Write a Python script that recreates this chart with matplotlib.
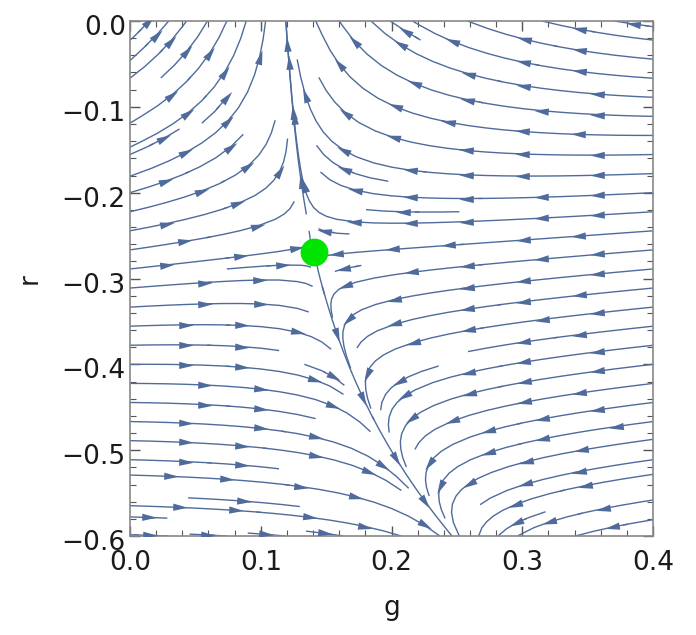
import numpy as np
import matplotlib
matplotlib.use("Agg")
import matplotlib.pyplot as plt
from matplotlib.ticker import MultipleLocator
from matplotlib.markers import MarkerStyle
from matplotlib.path import Path
from matplotlib.transforms import Affine2D, ScaledTranslation

plt.rcParams['font.family'] = ['DejaVu Sans']

# separatrix (unstable manifold) points: (r, g)
sep_r = np.array([0.0, -0.092, -0.205, -0.269, -0.287, -0.364, -0.427, -0.508, -0.60])
sep_g = np.array([0.120, 0.122, 0.132, 0.141, 0.145, 0.158, 0.174, 0.201, 0.247])
# fixed point (green dot)
fixed_g = [0.141]
fixed_r = [-0.269]
# flow rates
rate_r = 1.0       # repulsion along r
rate_g_top = 2.2   # attraction toward separatrix at r = 0
rate_g_quad = 25.0
coupling_left = 0.85
coupling_right = 0.5

coef = np.polyfit(sep_r, sep_g, 3)
dcoef = np.polyder(coef)

g = np.linspace(0.0, 0.4, 240)
r = np.linspace(-0.6, 0.0, 240)
G, R = np.meshgrid(g, r)
gc = np.polyval(coef, R)
dgc = np.polyval(dcoef, R)
x = G - gc
a = rate_g_top + rate_g_quad * R**2
vr_curve = rate_r * (R - fixed_r[0])
c = np.where(x < 0, coupling_left, coupling_right)
V = vr_curve - c * x
U = -a * x + dgc * vr_curve

LINE_COLOR = '#4f6b9c'
fig = plt.figure(figsize=(6.96, 6.35), dpi=100)
ax = fig.add_axes([130/696, 1-536/635, 523/696, 515/635])
ax.set_xlim(0, 0.4)
ax.set_ylim(-0.6, 0)
sp = ax.streamplot(G, R, U, V, density=0.95, color=LINE_COLOR, linewidth=1.0,
                   arrowstyle='-', arrowsize=0.1, minlength=0.05)
# the two branches of the unstable manifold leaving the fixed point
sep_start = np.array([[np.polyval(coef, -0.29), -0.29],
                      [np.polyval(coef, -0.245), -0.245]])
sp2 = ax.streamplot(G, R, U, V, start_points=sep_start, integration_direction='forward',
                    color=LINE_COLOR, linewidth=1.0, arrowstyle='-', arrowsize=0.1)


def get_streams(lc):
    segs = [np.asarray(s) for s in lc.get_segments()]
    if not segs:
        return []
    if all(len(s) == 2 for s in segs):
        out = []
        cur = [segs[0][0], segs[0][1]]
        for s in segs[1:]:
            if np.allclose(s[0], cur[-1]):
                cur.append(s[1])
            else:
                out.append(np.array(cur))
                cur = [s[0], s[1]]
        out.append(np.array(cur))
        return out
    return segs


streams = get_streams(sp.lines) + get_streams(sp2.lines)

head = Path([(1.0, 0.0), (-1.0, 0.5), (-1.0, -0.5), (1.0, 0.0)],
            [Path.MOVETO, Path.LINETO, Path.LINETO, Path.CLOSEPOLY])
trans = ax.transData
spacing = 64.0
for st in streams:
    if len(st) < 2:
        continue
    pix = trans.transform(st)
    d = np.r_[0, np.cumsum(np.hypot(*np.diff(pix, axis=0).T))]
    L = d[-1]
    if L < 25:
        continue
    n = max(1, int(L // spacing))
    start = (L - (n - 1) * spacing) / 2 if n > 1 else L / 2
    for k in range(n):
        s0 = start + k * spacing
        i = np.searchsorted(d, s0)
        i = min(max(i, 1), len(d) - 1)
        dx, dy = pix[i] - pix[i - 1]
        ang = np.arctan2(dy, dx)
        m = MarkerStyle(head, transform=Affine2D().rotate(ang))
        ax.plot([st[i][0]], [st[i][1]], linestyle='none', marker=m, markersize=10.5,
                color=LINE_COLOR, markeredgewidth=0, zorder=3)

ax.plot(fixed_g, fixed_r, 'o', color='#00e400', markersize=19, zorder=5)

ax.xaxis.set_minor_locator(MultipleLocator(0.02))
ax.yaxis.set_minor_locator(MultipleLocator(0.02))
ax.tick_params(which='both', direction='in', top=True, right=True, color='#555555',
               labelsize=19, labelcolor='#1a1a1a')
ax.tick_params(which='major', length=7, width=1)
ax.tick_params(which='minor', length=4, width=0.8)
ax.tick_params(axis='x', pad=10)
ax.tick_params(axis='y', pad=3)
ax.set_xticks([0, 0.1, 0.2, 0.3, 0.4])
ax.set_xticklabels(['0.0', '0.1', '0.2', '0.3', '0.4'])
ax.set_yticks([0, -0.1, -0.2, -0.3, -0.4, -0.5, -0.6])
ax.set_yticklabels(['0.0', '\u22120.1', '\u22120.2', '\u22120.3', '\u22120.4', '\u22120.5', '\u22120.6'])
off = ScaledTranslation(0, -3/72, fig.dpi_scale_trans)
for lab in ax.get_yticklabels():
    lab.set_transform(lab.get_transform() + off)
for s in ax.spines.values():
    s.set_color('#888888')
    s.set_linewidth(1.2)
ax.set_xlabel('g', fontsize=19, color='#1a1a1a', labelpad=14)
ax.set_ylabel('r', fontsize=19, color='#1a1a1a', labelpad=14)
fig.savefig('out.png', dpi=100)
